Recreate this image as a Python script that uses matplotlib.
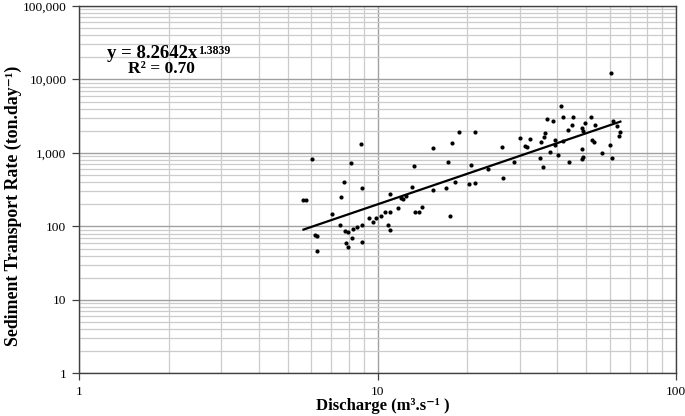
import numpy as np
import matplotlib
matplotlib.use("Agg")
import matplotlib.pyplot as plt
from matplotlib.ticker import FixedLocator, FuncFormatter, NullFormatter

plt.rcParams['font.family'] = ['Liberation Serif', 'DejaVu Serif']

# discharge (m3/s) and sediment transport rate (ton/day)
discharge = [5.65, 5.76, 6.04, 6.19, 6.29, 6.29, 7.05, 7.50, 7.57, 7.75,
             7.79, 7.97, 7.85, 7.95, 8.14, 8.26, 8.24, 8.57, 8.82, 8.86,
             8.86, 8.86, 9.33, 9.67, 9.92, 10.26, 10.58, 11.03, 10.83, 11.0,
             11.03, 11.74, 11.95, 12.13, 12.42, 13.07, 13.24, 13.38, 13.78, 14.05,
             15.36, 15.38, 16.95, 17.22, 17.48, 17.76, 18.16, 18.77, 20.2, 20.62,
             21.16, 21.28, 23.36, 26.21, 26.41, 28.6, 30.03, 31.2, 31.8, 32.5,
             34.9, 35.3, 35.8, 36.1, 36.4, 37.1, 37.8, 38.7, 39.4, 39.3,
             40.1, 41.2, 41.8, 41.9, 43.3, 43.9, 44.8, 45.1, 48.4, 48.7,
             48.4, 48.9, 48.6, 49.5, 52.1, 52.5, 53.2, 53.5, 56.5, 59.9,
             60.4, 61.0, 61.7, 63.2, 65.1, 64.6]
sediment = [229, 231, 836, 77.3, 75.0, 46.0, 148, 104, 252, 403,
            86.8, 85.0, 59.1, 52.1, 731, 92.5, 69.1, 97.5, 1326, 337,
            106, 61.0, 132, 115, 129, 139, 159, 159, 105, 90.5,
            277, 180, 242, 237, 258, 345, 659, 159, 159, 184,
            1163, 317, 337, 743, 140, 1381, 399, 1943, 376, 691,
            1943, 393, 610, 1218, 457, 747, 1585, 1257, 1195, 1536,
            863, 1425, 651, 1635, 1871, 2929, 1032, 2751, 1502, 1297,
            948, 4400, 3118, 1457, 2037, 754, 2427, 3118, 2188, 2011,
            1144, 874, 829, 2536, 3089, 1502, 1425, 2404, 1009, 1273,
            12374, 850, 2708, 2330, 1919, 1719]

coef = 8.2642
expo = 1.3839
r2 = 0.70

fig = plt.figure(figsize=(6.85, 4.16), dpi=100)
ax = fig.add_axes([0.1153, 0.1022, 0.8716, 0.8834])

ax.set_xscale('log')
ax.set_yscale('log')
ax.set_xlim(1, 100)
ax.set_ylim(1, 100000)

# grid: minor light, major a bit darker
ax.grid(True, which='minor', color='#cccccc', linewidth=0.9)
ax.grid(True, which='major', color='#a0a0a0', linewidth=1.0)
ax.set_axisbelow(True)

ax.scatter(discharge, sediment, s=9, color='black', zorder=3, linewidths=0)

# power trendline over the data range
xfit = np.linspace(min(discharge), max(discharge), 200)
ax.plot(xfit, coef * xfit ** expo, color='black', linewidth=1.6, zorder=4)

ax.yaxis.set_major_locator(FixedLocator([1, 10, 100, 1000, 10000, 100000]))
ax.yaxis.set_major_formatter(FuncFormatter(lambda v, p: '{:,.0f}'.format(v)))
ax.xaxis.set_major_locator(FixedLocator([1, 10, 100]))
ax.xaxis.set_major_formatter(FuncFormatter(lambda v, p: '{:.0f}'.format(v)))
ax.xaxis.set_minor_formatter(NullFormatter())
ax.yaxis.set_minor_formatter(NullFormatter())
ax.tick_params(which='major', direction='out', length=5, width=0.9,
               color='#404040', labelsize=9.7, pad=4)
ax.tick_params(which='minor', length=0)

for s in ax.spines.values():
    s.set_color('#404040')
    s.set_linewidth(1.0)

fig.text(383 / 685, 1 - 406 / 416, 'Discharge (m³.s⁻¹ )', fontsize=12,
         fontweight='bold', ha='center', va='center')
fig.text(13 / 685, 1 - 206 / 416, 'Sediment Transport Rate (ton.day⁻¹)', fontsize=12.8,
         fontweight='bold', ha='center', va='center', rotation=90)

eq = fig.text(107 / 685, 1 - 53 / 416, 'y = %.4fx' % coef, fontsize=13.5,
              fontweight='bold', ha='left', va='center')
ax.annotate('%.4f' % expo, xy=(1, 1), xycoords=eq, xytext=(0.5, 0),
            textcoords='offset points', fontsize=8.5, fontweight='bold',
            ha='left', va='top')
fig.text(161 / 685, 1 - 69 / 416, 'R² = %.2f' % r2, fontsize=12.5,
         fontweight='bold', ha='center', va='center')

fig.savefig('out.png', dpi=100, facecolor='white')
